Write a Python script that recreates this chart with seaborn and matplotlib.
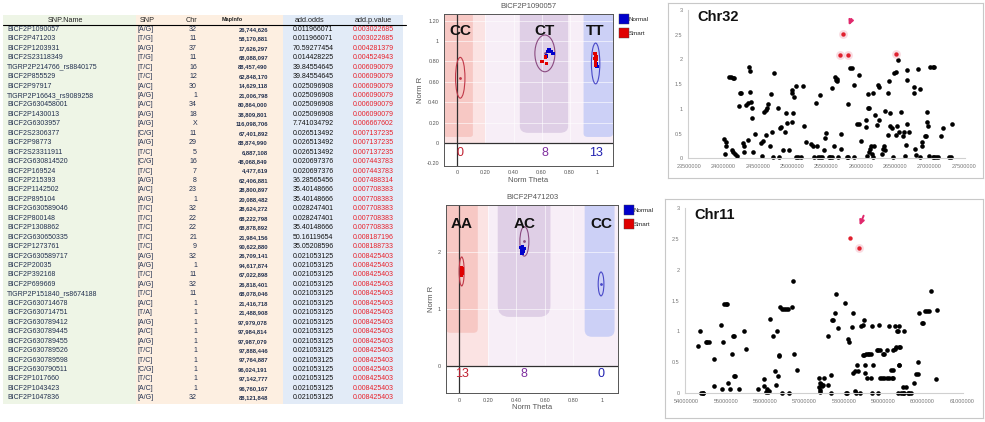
import pandas as pd
import matplotlib
matplotlib.use("Agg")
import matplotlib.pyplot as plt
import seaborn as sns
from matplotlib.patches import Rectangle, FancyBboxPatch, Ellipse
from matplotlib.lines import Line2D
from matplotlib.ticker import FuncFormatter, FixedLocator

# ---------------- table data ----------------
snp_names = ["BICF2P1090057", "BICF2P471203", "BICF2P1203931", "BICF2S23118349",
             "TIGRP2P214766_rs8840175", "BICF2P855529", "BICF2P97917", "TIGRP2P16643_rs9089258",
             "BICF2G630458001", "BICF2P1430013", "BICF2G6303957", "BICF2S2306377",
             "BICF2P98773", "BICF2S23311911", "BICF2G630814520", "BICF2P169524",
             "BICF2P215393", "BICF2P1142502", "BICF2P895104", "BICF2G630589046",
             "BICF2P800148", "BICF2P1308862", "BICF2G630650335", "BICF2P1273761",
             "BICF2G630589717", "BICF2P20035", "BICF2P392168", "BICF2P699669",
             "TIGRP2P151840_rs8674188", "BICF2G630714678", "BICF2G630714751", "BICF2G630789412",
             "BICF2G630789445", "BICF2G630789455", "BICF2G630789526", "BICF2G630789598",
             "BICF2G630790511", "BICF2P1017660", "BICF2P1043423", "BICF2P1047836"]
snp_alleles = ["[A/G]", "[T/G]", "[A/G]", "[T/G]", "[T/C]", "[T/C]", "[A/C]", "[A/G]",
               "[A/C]", "[A/G]", "[A/G]", "[C/G]", "[A/G]", "[T/C]", "[C/G]", "[T/C]",
               "[A/G]", "[A/C]", "[A/G]", "[T/C]", "[T/C]", "[T/C]", "[T/C]", "[T/C]",
               "[A/G]", "[A/G]", "[T/C]", "[A/G]", "[T/C]", "[A/C]", "[T/A]", "[A/G]",
               "[A/C]", "[A/G]", "[T/C]", "[T/C]", "[C/G]", "[T/C]", "[A/C]", "[A/G]"]
chrom = ["32", "11", "37", "11", "16", "12", "30", "1", "34", "18", "X", "11", "29", "5",
         "16", "7", "8", "23", "1", "32", "22", "22", "21", "9", "32", "1", "11", "32", "11",
         "1", "1", "1", "1", "1", "1", "1", "1", "1", "1", "32"]
map_info = ["26,744,626", "58,170,881", "17,626,297", "68,088,097", "88,457,490", "62,848,170",
            "14,629,118", "21,006,798", "80,864,000", "38,809,801", "116,098,706", "67,401,892",
            "88,874,990", "6,887,108", "48,068,849", "4,477,619", "62,406,881", "28,800,897",
            "20,088,482", "28,624,272", "68,222,798", "68,878,892", "21,984,156", "90,622,880",
            "26,709,141", "94,617,874", "67,022,898", "26,818,401", "68,078,046", "21,416,718",
            "21,488,908", "97,979,078", "97,984,814", "97,987,079", "97,888,446", "97,764,887",
            "96,024,191", "97,142,777", "96,760,167", "88,121,848"]
add_odds = ["0.011966071", "0.011966071", "70.59277454", "0.014428225", "39.84554645",
            "39.84554645", "0.025096908", "0.025096908", "0.025096908", "0.025096908",
            "7.741034792", "0.026513492", "0.026513492", "0.026513492", "0.020697376",
            "0.020697376", "36.28565456", "35.40148666", "35.40148666", "0.028247401",
            "0.028247401", "35.40148666", "50.16119654", "35.05208596"] + ["0.021053125"] * 16
add_pvalue = ["0.003022685", "0.003022685", "0.004281379", "0.004524943"] + ["0.006090079"] * 6 + \
             ["0.006667602", "0.007137235", "0.007137235", "0.007137235", "0.007443783",
              "0.007443783", "0.007488314"] + ["0.007708383"] * 5 + \
             ["0.008187196", "0.008188733"] + ["0.008425403"] * 16

# ---------------- genotype cluster data ----------------
top_title = "BICF2P1090057"
top_theta = [0.654, 0.671, 0.683, 0.636, 0.645, 0.99, 0.995,
             0.604, 0.628, 0.636, 0.981, 0.985, 0.99, 0.98, 0.987, 0.983, 0.99, 0.985]
top_r = [0.918, 0.895, 0.879, 0.853, 0.90, 0.78, 0.75,
         0.797, 0.845, 0.78, 0.879, 0.86, 0.846, 0.83, 0.813, 0.80, 0.82, 0.765]
top_group = ["Normal"] * 7 + ["Smart"] * 11
top_ellipses = [(0.02, 0.64, 0.067, 0.40), (0.624, 0.879, 0.143, 0.36), (0.986, 0.78, 0.06, 0.40)]
top_calls = ["CC", "CT", "TT"]
top_counts = ["0", "8", "13"]

bot_title = "BICF2P471203"
bot_theta = [0.43, 0.44, 0.45, 0.435, 0.445, 0.455, 0.44,
             0.015, 0.02, 0.018, 0.022, 0.016, 0.02, 0.019]
bot_r = [2.08, 2.05, 2.02, 2.0, 2.1, 2.06, 1.98,
         1.72, 1.68, 1.65, 1.62, 1.60, 1.70, 1.66]
bot_group = ["Normal"] * 7 + ["Smart"] * 7
bot_ellipses = [(0.017, 1.66, 0.035, 0.51), (0.457, 2.19, 0.063, 0.52), (0.995, 1.44, 0.04, 0.42)]
bot_calls = ["AA", "AC", "CC"]
bot_counts = ["13", "8", "0"]

# ---------------- chromosome scans (position in Mb, score) ----------------
chr32_pos = [24.01, 24.03, 24.04, 24.02, 24.08, 24.10, 24.13, 24.15, 24.12, 24.14, 24.17, 24.19,
             24.22, 24.24, 24.26, 24.28, 24.30, 24.29, 24.32, 24.35, 24.35, 24.37, 24.38, 24.39,
             24.40, 24.41, 24.42, 24.43, 24.46, 24.55, 24.56, 24.57, 24.59, 24.62, 24.63, 24.65,
             24.62, 24.67, 24.69, 24.71, 24.72, 24.73, 24.79, 24.81, 24.82, 24.84, 24.86, 24.89,
             24.91, 24.92, 24.96, 24.99, 25.00, 25.02, 25.01, 25.05, 24.99, 25.06, 25.09, 25.13,
             25.15, 25.17, 25.20, 25.28, 25.31, 25.32, 25.35, 25.36, 25.38, 25.40, 25.43, 25.41,
             25.46, 25.48, 25.50, 25.53, 25.55, 25.58, 25.58, 25.61, 25.63, 25.64, 25.65, 25.66,
             25.67, 25.71, 25.71, 25.80, 25.82, 25.81, 25.84, 25.87, 25.90, 25.90, 25.94, 25.97,
             25.98, 26.00, 26.07, 26.08, 26.09, 26.10, 26.12, 26.10, 26.12, 26.14, 26.15, 26.16,
             26.18, 26.18, 26.20, 26.21, 26.23, 26.25, 26.26, 26.27, 26.31, 26.33, 26.34, 26.35,
             26.36, 26.39, 26.40, 26.41, 26.43, 26.43, 26.46, 26.47, 26.49, 26.52, 26.51, 26.54,
             26.53, 26.56, 26.58, 26.61, 26.63, 26.64, 26.66, 26.67, 26.68, 26.68, 26.70, 26.77,
             26.78, 26.79, 26.80, 26.83, 26.86, 26.87, 26.89, 26.90, 26.93, 26.95, 26.97, 26.97,
             26.98, 27.00, 27.01, 27.05, 27.07, 27.05, 27.07, 27.10, 27.13, 27.17, 27.20, 27.29,
             27.32, 27.33]
chr32_score = [0.40, 0.32, 0.25, 0.09, 1.65, 1.64, 1.63, 1.62, 0.17, 0.13, 0.09, 0.05,
               1.05, 1.32, 1.32, 0.30, 0.24, 0.13, 1.08, 1.11, 0.37, 1.85, 1.77, 1.35,
               1.13, 0.81, 1.02, 0.13, 0.50, 0.30, 0.05, 0.34, 0.94, 0.98, 1.01, 1.10,
               0.47, 0.24, 1.31, 0.54, 0.02, 1.72, 1.02, 0.02, 0.61, 0.64, 0.17, 0.54,
               0.91, 0.72, 0.17, 1.38, 1.33, 1.23, 0.92, 1.46, 0.74, 0.02, 0.02, 0.02,
               1.46, 0.65, 0.32, 0.29, 0.24, 0.02, 1.11, 0.24, 0.02, 0.02, 0.02, 1.28,
               0.16, 0.42, 0.52, 0.02, 0.02, 0.02, 1.42, 0.24, 1.64, 1.58, 1.56, 1.61,
               0.02, 0.49, 0.18, 0.02, 0.02, 1.10, 1.82, 1.82, 1.48, 0.03, 0.69, 0.69,
               1.69, 0.34, 0.78, 0.64, 0.05, 1.01, 1.01, 1.31, 0.13, 0.18, 0.24, 0.09,
               0.03, 1.33, 0.24, 0.88, 0.67, 1.48, 1.44, 0.78, 0.09, 0.18, 0.24, 0.96,
               0.17, 0.47, 1.33, 1.57, 0.91, 0.65, 0.61, 0.02, 1.73, 1.75, 0.47, 1.99,
               0.65, 0.54, 0.94, 0.45, 0.54, 0.05, 0.27, 1.79, 1.58, 0.69, 0.54, 1.44,
               1.33, 0.18, 0.07, 1.81, 0.02, 1.40, 0.32, 0.25, 0.45, 0.45, 0.94, 0.74,
               0.65, 0.05, 1.84, 1.84, 1.84, 0.02, 0.02, 0.02, 0.02, 0.45, 0.61, 0.02,
               0.02, 0.69]
chr32_hit_pos = [25.74, 25.70, 25.81, 26.52]
chr32_hit_score = [2.51, 2.08, 2.08, 2.12]

chr11_pos = [54.30, 54.35, 54.36, 54.41, 54.43, 54.49, 54.53, 54.58, 54.70, 54.70, 54.87, 54.92,
             54.90, 54.96, 55.00, 55.04, 55.06, 55.10, 55.15, 55.19, 55.21, 55.21, 55.24, 55.34,
             55.47, 55.51, 55.81, 55.96, 55.98, 56.02, 56.04, 56.07, 56.10, 56.13, 56.21, 56.26,
             56.27, 56.29, 56.32, 56.34, 56.36, 56.38, 56.42, 56.44, 56.49, 56.53, 56.57, 56.61,
             56.68, 56.72, 56.74, 56.81, 57.36, 57.38, 57.39, 57.40, 57.42, 57.44, 57.46, 57.40,
             57.50, 57.59, 57.61, 57.67, 57.67, 57.70, 57.73, 57.78, 57.80, 57.86, 58.06, 58.08,
             58.04, 58.10, 58.14, 58.21, 58.23, 58.24, 58.28, 58.28, 58.31, 58.34, 58.35, 58.41,
             58.45, 58.48, 58.48, 58.52, 58.56, 58.52, 58.55, 58.55, 58.58, 58.61, 58.65, 58.69,
             58.69, 58.72, 58.72, 58.75, 58.84, 58.88, 58.92, 58.87, 58.90, 58.92, 58.97, 59.03,
             59.09, 59.15, 59.22, 59.26, 58.99, 59.03, 59.09, 59.14, 59.20, 59.25, 59.26, 59.29,
             59.33, 59.31, 59.40, 59.35, 59.37, 59.37, 59.41, 59.45, 59.50, 59.54, 59.40, 59.43,
             59.41, 59.50, 59.58, 59.54, 59.63, 59.67, 59.71, 59.78, 59.84, 59.88, 59.88, 59.92,
             59.99, 60.01, 60.07, 60.11, 60.16, 60.22, 60.35, 60.36]
chr11_score = [0.76, 1.00, 0.00, 0.00, 0.00, 0.83, 0.83, 0.83, 0.55, 0.11, 1.10, 0.82,
               0.06, 1.44, 1.44, 1.44, 0.16, 0.06, 0.63, 0.93, 0.93, 0.27, 0.28, 0.06,
               1.00, 0.71, 0.06, 0.22, 0.11, 0.02, 0.06, 0.02, 0.03, 1.20, 0.93, 0.36,
               0.13, 1.01, 0.28, 0.60, 0.62, 1.39, 0.00, 1.36, 1.36, 1.36, 1.36, 0.00,
               1.40, 1.82, 0.64, 0.37, 0.25, 0.10, 0.17, 0.05, 0.15, 0.11, 0.13, 0.02,
               0.25, 0.13, 0.93, 0.30, 0.00, 1.19, 1.19, 1.30, 1.61, 1.06, 0.00, 0.00,
               1.46, 0.87, 0.82, 1.07, 1.30, 0.33, 0.35, 0.03, 0.00, 0.45, 0.36, 0.00,
               1.08, 1.10, 0.62, 0.62, 0.63, 1.19, 0.33, 0.45, 0.25, 0.64, 0.64, 0.64,
               0.25, 0.00, 1.08, 0.45, 0.70, 0.70, 0.70, 0.00, 1.10, 0.25, 0.25, 0.25,
               0.25, 0.25, 0.25, 0.25, 0.64, 0.64, 0.70, 1.08, 0.38, 0.38, 0.70, 0.72,
               0.74, 1.08, 1.08, 1.00, 1.00, 0.00, 0.45, 0.00, 0.00, 0.00, 0.74, 0.74,
               0.45, 0.09, 0.09, 1.00, 0.00, 0.00, 0.00, 0.17, 0.31, 0.31, 0.51, 1.30,
               1.13, 1.13, 1.33, 1.33, 1.33, 1.65, 0.22, 1.34]
chr11_hit_pos = [58.17, 58.38]
chr11_hit_score = [2.51, 2.35]

# ---------------- figure ----------------
sns.set_style("white")
plt.rcParams['font.family'] = ['Liberation Sans', 'DejaVu Sans']
W, H = 985, 422
fig = plt.figure(figsize=(W / 100, H / 100), dpi=100)


def px_axes(l, t, r, b, **kw):
    return fig.add_axes([l / W, 1 - b / H, (r - l) / W, (b - t) / H], **kw)


# ---- table ----
ax_t = px_axes(0, 0, 410, 422)
ax_t.set_xlim(0, 410)
ax_t.set_ylim(422, 0)
ax_t.axis("off")
ax_t.add_patch(Rectangle((3, 15), 133, 389, color="#eef5e6", lw=0))
ax_t.add_patch(Rectangle((136, 15), 147, 389, color="#fdefe1", lw=0))
ax_t.add_patch(Rectangle((283, 15), 120, 389, color="#e2ebf7", lw=0))
ax_t.plot([3, 406], [24.5, 24.5], color="black", lw=0.8)
hdr_kw = dict(fontsize=5.2, color="#222222", ha="center", va="center")
ax_t.text(65, 20, "SNP.Name", **hdr_kw)
ax_t.text(147, 20, "SNP", **hdr_kw)
ax_t.text(192, 20, "Chr", **hdr_kw)
ax_t.text(232, 20, "MapInfo", fontsize=4.0, fontweight="bold", color="#222222", ha="center", va="center")
ax_t.text(310, 20, "add.odds", **hdr_kw)
ax_t.text(373, 20, "add.p.value", **hdr_kw)
for i in range(len(snp_names)):
    y = 29.3 + i * 9.45
    ax_t.text(7, y, snp_names[i], fontsize=5, color="#22304f", va="center")
    ax_t.text(138, y, snp_alleles[i], fontsize=5, color="#22304f", va="center")
    ax_t.text(197, y, chrom[i], fontsize=5, color="#22304f", va="center", ha="right")
    ax_t.text(268, y, map_info[i], fontsize=4.2, fontweight="bold", color="#22304f",
              va="center", ha="right")
    ax_t.text(293, y, add_odds[i], fontsize=5, color="#111111", va="center")
    ax_t.text(353, y, add_pvalue[i], fontsize=5, color="#e8202a", va="center")

# ---- genotype cluster plots ----
pal = {"Normal": "#0000cc", "Smart": "#e00000"}
ell_colors = ["#c03848", "#8a4a80", "#4848c8"]
call_colors = ["#c02030", "#8030a0", "#2020b0"]


def tick_fmt(v, _):
    return f"{v:.0f}" if abs(v - round(v)) < 1e-9 else f"{v:.2f}"


def draw_cluster(ax, theta, r, group, ellipses, calls, counts, title, xlim, ylim, yticks,
                 regions, call_y, count_y):
    top = ylim[1]
    ax.axhspan(0, top, color="#f7eef7", lw=0, zorder=0)
    ax.axvspan(xlim[0], 0.2, ymin=(0 - ylim[0]) / (top - ylim[0]), color="#fbe3e3", lw=0, zorder=0)
    for (x0, x1, y0, col, rad) in regions:
        ax.add_patch(FancyBboxPatch((x0, y0), x1 - x0, top - y0 + 0.5,
                                    boxstyle=f"round,pad=0,rounding_size={rad}",
                                    mutation_aspect=(top - ylim[0]) / (xlim[1] - xlim[0]) * 0.9,
                                    color=col, lw=0, zorder=0.5))
    for gx in [0.2, 0.4, 0.6, 0.8]:
        ax.plot([gx, gx], [0, top], color="white", lw=0.7, alpha=0.6, zorder=0.8)
    for gy in yticks:
        if gy > 0:
            ax.plot(xlim, [gy, gy], color="white", lw=0.7, alpha=0.6, zorder=0.8)
    ax.axvline(0, color="#303030", lw=0.9, zorder=1)
    ax.axhline(0, color="#303030", lw=0.9, zorder=1)
    df = pd.DataFrame({"theta": theta, "r": r, "group": group})
    sns.scatterplot(data=df, x="theta", y="r", hue="group", palette=pal, marker="s", s=6,
                    linewidth=0, legend=False, ax=ax, zorder=3)
    for (cx, cy, w, h), ec in zip(ellipses, ell_colors):
        ax.add_patch(Ellipse((cx, cy), w, h, fill=False, ec=ec, lw=0.8, zorder=2))
        ax.plot(cx, cy, marker="o", ms=1.0, color=ec, zorder=2)
    for (cx, cy, w, h), lab, cnt, cc in zip(ellipses, calls, counts, call_colors):
        ax.text(cx, call_y, lab, fontsize=11, fontweight="bold", color="#111111",
                ha="center", va="center", zorder=4)
        ax.text(cx, count_y, cnt, fontsize=9, color=cc, ha="center", va="center", zorder=4)
    ax.set_xlim(*xlim)
    ax.set_ylim(*ylim)
    ax.xaxis.set_major_locator(FixedLocator([0, 0.2, 0.4, 0.6, 0.8, 1]))
    ax.yaxis.set_major_locator(FixedLocator(yticks))
    ax.xaxis.set_major_formatter(FuncFormatter(tick_fmt))
    ax.yaxis.set_major_formatter(FuncFormatter(tick_fmt))
    ax.tick_params(labelsize=4, colors="#555555", length=2, width=0.5, pad=1.5)
    ax.set_xlabel("Norm Theta", fontsize=5.5, color="#555555", labelpad=1)
    ax.set_ylabel("Norm R", fontsize=5.5, color="#555555", labelpad=2)
    ax.set_title(title, fontsize=5.5, color="#555555", pad=4)
    for sp in ax.spines.values():
        sp.set_color("#555555")
        sp.set_linewidth(0.7)
    handles = [Line2D([], [], marker="s", ls="", ms=7, mfc=pal[k], mec="#444444", mew=0.3)
               for k in ["Normal", "Smart"]]
    ax.legend(handles, ["Normal", "Smart"], loc="upper left", bbox_to_anchor=(1.03, 1.0),
              frameon=False, fontsize=4.5, handletextpad=0.3, labelspacing=1.4,
              borderaxespad=0, handlelength=1)


ax_c1 = px_axes(444, 14, 613, 165.5)
draw_cluster(ax_c1, top_theta, top_r, top_group, top_ellipses, top_calls, top_counts, top_title,
             (-0.096, 1.11), (-0.22, 1.265), [-0.2, 0, 0.2, 0.4, 0.6, 0.8, 1.0, 1.2],
             [(-0.096, 0.11, 0.06, "#f7c8c4", 0.02), (0.445, 0.79, 0.10, "#dfcfe6", 0.06),
              (0.90, 1.11, 0.06, "#ccd0f6", 0.03)],
             1.10, -0.10)

ax_c2 = px_axes(446, 205, 618, 393)
draw_cluster(ax_c2, bot_theta, bot_r, bot_group, bot_ellipses, bot_calls, bot_counts, bot_title,
             (-0.093, 1.114), (-0.48, 2.83), [0, 1, 2],
             [(-0.093, 0.13, 0.58, "#f7c8c4", 0.03), (0.27, 0.64, 0.86, "#dfcfe6", 0.08),
              (0.88, 1.09, 0.51, "#ccd0f6", 0.05)],
             2.5, -0.15)


# ---- chromosome scan plots ----
def draw_scan(frame, box, pos, score, hit_pos, hit_score, halo_idx, xticks, label, arrow):
    fr = px_axes(*frame)
    fr.set_xticks([])
    fr.set_yticks([])
    for sp in fr.spines.values():
        sp.set_color("#c8c8c8")
        sp.set_linewidth(0.8)
    ax = px_axes(*box)
    sns.scatterplot(x=pos, y=score, color="black", s=11, linewidth=0, ax=ax, clip_on=False)
    sns.scatterplot(x=[hit_pos[k] for k in halo_idx], y=[hit_score[k] for k in halo_idx],
                    color="#f4b8c4", s=40, linewidth=0, alpha=0.5, ax=ax, clip_on=False)
    sns.scatterplot(x=hit_pos, y=hit_score, color="#e0202e", s=10, linewidth=0, ax=ax,
                    clip_on=False)
    ax.set_xlim(xticks[0] - 0.04 * (xticks[1] - xticks[0]), xticks[-1] + 0.04 * (xticks[1] - xticks[0]))
    ax.set_ylim(0, 3)
    ax.set_xticks(xticks)
    ax.set_yticks([0, 0.5, 1, 1.5, 2, 2.5, 3])
    ax.xaxis.set_major_formatter(FuncFormatter(lambda v, _: f"{v * 1e6:.0f}"))
    ax.yaxis.set_major_formatter(FuncFormatter(lambda v, _: f"{v:g}"))
    ax.tick_params(labelsize=4, length=2, width=0.5, pad=2)
    ax.tick_params(axis="x", colors="#bbbbbb", labelcolor="#777777")
    ax.tick_params(axis="y", colors="#bbbbbb", labelcolor="#777777")
    sns.despine(ax=ax)
    ax.spines["left"].set_color("#d0d0d0")
    ax.spines["bottom"].set_color("#d0d0d0")
    ax.patch.set_alpha(0)
    ax.text(0.035, 1.0, label, transform=ax.transAxes, fontsize=10.5, fontweight="bold",
            color="#111111", ha="left", va="top")
    ax.annotate("", xy=arrow[1], xytext=arrow[0],
                arrowprops=dict(arrowstyle="-|>", color="#e0286c", lw=1.4, mutation_scale=7),
                annotation_clip=False)


draw_scan((668, 3, 983, 178), (688, 10, 965, 158.3), chr32_pos, chr32_score,
          chr32_hit_pos, chr32_hit_score, [0, 1, 2, 3],
          [23.5, 24.0, 24.5, 25.0, 25.5, 26.0, 26.5, 27.0, 27.5],
          "Chr32", ((25.88, 2.87), (25.81, 2.64)))
draw_scan((665, 199, 983, 418), (685, 208.2, 963.3, 393), chr11_pos, chr11_score,
          chr11_hit_pos, chr11_hit_score, [1],
          [54, 55, 56, 57, 58, 59, 60, 61],
          "Chr11", ((58.53, 2.92), (58.38, 2.68)))

fig.savefig("out.png", dpi=100)
